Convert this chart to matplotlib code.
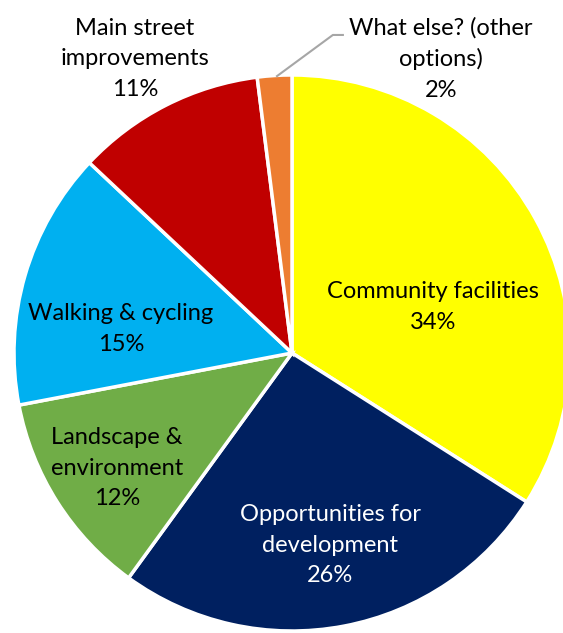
import matplotlib.pyplot as plt

categories = ["Community facilities", "Opportunities for\ndevelopment", "Landscape &\nenvironment",
              "Walking & cycling", "Main street\nimprovements", "What else? (other\noptions)"]
shares = [34, 26, 12, 15, 11, 2]
colors = ["#FFFF00", "#002060", "#70AD47", "#00B0F0", "#C00000", "#ED7D31"]
text_colors = ["black", "white", "black", "black", "black", "black"]

# label centres, in axis units (pie radius = 1)
label_pos = [(0.507, 0.165), (0.137, -0.691), (-0.629, -0.414),
             (-0.615, 0.086), (-0.565, 1.058), (0.536, 1.058)]

plt.rcParams["font.family"] = ["Lato", "DejaVu Sans"]

fig = plt.figure(figsize=(5.63, 6.33), dpi=100)
W, H = 563, 633
cx, cy, r = 292, 353, 278
ax = fig.add_axes([(cx - r) / W, (H - cy - r) / H, 2 * r / W, 2 * r / H])

wedges, _ = ax.pie(shares, colors=colors, startangle=90, counterclock=False,
                   radius=1, wedgeprops=dict(edgecolor="white", linewidth=2.5))
for w in wedges:
    w.set_clip_on(False)

ax.set_xlim(-1, 1)
ax.set_ylim(-1, 1)
ax.set_aspect("equal")
ax.axis("off")

for name, val, (x, y), tc in zip(categories, shares, label_pos, text_colors):
    ax.text(x, y, f"{name}\n{val}%", ha="center", va="center", color=tc,
            fontsize=17, linespacing=1.55, clip_on=False)

# leader line for the small slice
ax.plot([-0.054, 0.147, 0.183], [0.996, 1.144, 1.144], color="#A6A6A6",
        linewidth=1.5, clip_on=False)

fig.savefig("out.png", dpi=100)
